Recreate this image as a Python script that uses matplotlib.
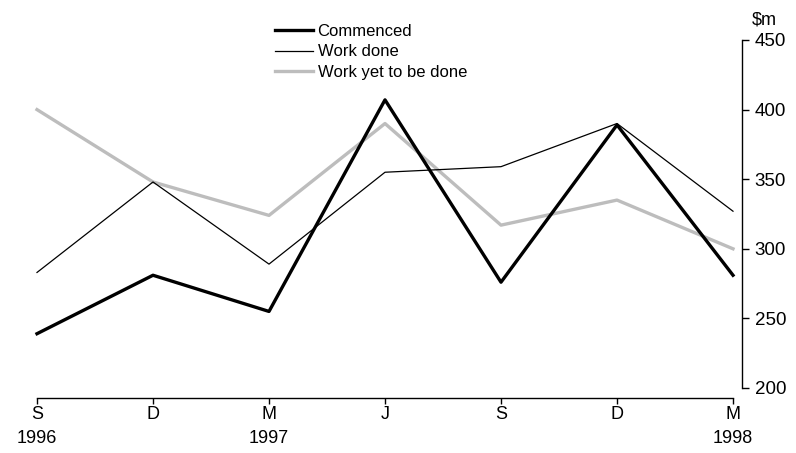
import matplotlib.pyplot as plt

plt.rcParams['font.family'] = ['Liberation Sans', 'DejaVu Sans']

# quarters, S 1996 .. M 1998
quarters = ['S\n1996', 'D', 'M\n1997', 'J', 'S', 'D', 'M\n1998']
commenced = [239, 281, 255, 407, 276, 389, 281]
work_done = [283, 348, 289, 355, 359, 390, 327]
work_yet = [400, 348, 324, 390, 317, 335, 300]

fig = plt.figure(figsize=(7.96, 4.53), dpi=100)
ax = fig.add_axes([37/796, 65/453, (733-37)/796, (413-65)/453])

x = range(len(quarters))
ax.plot(x, work_yet, color='#bdbdbd', lw=2.4, label='Work yet to be done', zorder=1, clip_on=False)
ax.plot(x, work_done, color='black', lw=0.9, label='Work done', zorder=2, clip_on=False)
ax.plot(x, commenced, color='black', lw=2.4, label='Commenced', zorder=3, clip_on=False)

ax.set_xlim(0, len(quarters) - 1)
ax.set_ylim(200, 450)

# spines: bottom and right only, pushed out a bit
for s in ['top', 'left']:
    ax.spines[s].set_visible(False)
ax.spines['bottom'].set_position(('outward', 7.2))
ax.spines['right'].set_position(('outward', 6.5))
ax.spines['bottom'].set_linewidth(1.0)
ax.spines['right'].set_linewidth(1.0)

ax.set_xticks(list(x))
ax.set_xticklabels(quarters, fontsize=13, linespacing=1.5)
ax.yaxis.tick_right()
ax.set_yticks([200, 250, 300, 350, 400, 450])
ax.tick_params(axis='x', length=4, width=1.0, pad=2)
ax.tick_params(axis='y', length=5, width=1.0, pad=4, labelsize=13.5)

fig.text(764/796, 1 - 20/453, '$m', fontsize=13, ha='center', va='center')

h, l = ax.get_legend_handles_labels()
order = [2, 1, 0]
ax.legend([h[i] for i in order], [l[i] for i in order], loc='upper left',
          bbox_to_anchor=(275/796, 1 - 24/453), bbox_transform=fig.transFigure,
          frameon=False, fontsize=12, handlelength=2.3, handletextpad=0.25,
          labelspacing=0.33, borderpad=0, borderaxespad=0)

fig.savefig('out.png', dpi=100)
